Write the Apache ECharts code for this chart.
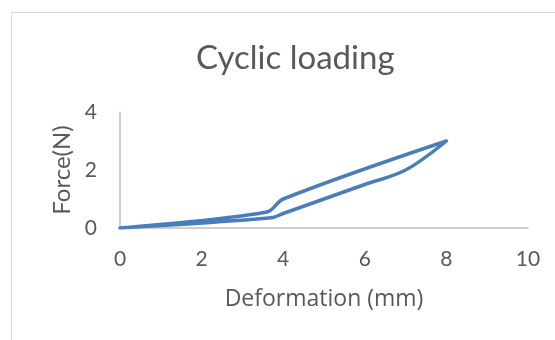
<!DOCTYPE html>
<html>
<head>
<meta charset="utf-8">
<script src="https://cdn.jsdelivr.net/npm/echarts@6/dist/echarts.min.js"></script>
<style>
  html, body { margin: 0; padding: 0; background: #ffffff; }
  #chart { width: 555px; height: 340px; }
</style>
</head>
<body>
<div id="chart"></div>
<script>
// Loading branch (deformation in mm, force in N)
const loadX = [0, 3.6, 4.0, 8.0];
const loadY = [0, 0.55, 1.0, 3.0];
// Unloading branch back to the origin
const unloadX = [8.0, 7.0, 6.0, 5.0, 4.0, 3.7, 0];
const unloadY = [3.0, 2.0, 1.5, 1.0, 0.5, 0.35, 0];

const xTicks = [0, 2, 4, 6, 8, 10];
const yTicks = [0, 2, 4];

const cycle = [];
loadX.forEach((x, i) => cycle.push([x, loadY[i]]));
unloadX.slice(1).forEach((x, i) => cycle.push([x, unloadY[i + 1]]));

const textColor = '#595959';
const axisColor = '#bfbfbf';
const font = 'Lato, "Open Sans", sans-serif';
// Lato joins "ti" into a ligature, so the x-axis name uses Open Sans
const nameFont = '"Open Sans", sans-serif';

const chart = echarts.init(document.getElementById('chart'), null, { renderer: 'canvas' });
chart.setOption({
  animation: false,
  backgroundColor: '#ffffff',
  graphic: [{
    type: 'rect',
    shape: { x: 11.5, y: 12.5, width: 700, height: 500 },
    style: { fill: 'none', stroke: '#d9d9d9', lineWidth: 1 },
    silent: true
  }],
  title: {
    text: 'Cyclic loading',
    left: 191,
    top: 37,
    textStyle: { fontFamily: font, fontSize: 33, fontWeight: 'normal', color: textColor }
  },
  grid: { left: 120, right: 27, top: 112, bottom: 112 },
  xAxis: {
    type: 'value',
    min: xTicks[0],
    max: xTicks[xTicks.length - 1],
    interval: 2,
    name: 'Deformation (mm)',
    nameLocation: 'middle',
    nameGap: 60,
    nameTextStyle: { fontFamily: nameFont, fontSize: 23, color: textColor },
    axisLine: { show: true, lineStyle: { color: axisColor, width: 1.5 } },
    axisTick: { show: false },
    splitLine: { show: false },
    axisLabel: { margin: 21, fontFamily: font, fontSize: 21, color: textColor }
  },
  yAxis: {
    type: 'value',
    min: yTicks[0],
    max: yTicks[yTicks.length - 1],
    interval: 2,
    name: 'Force(N)',
    nameLocation: 'middle',
    nameGap: 43,
    nameTextStyle: { fontFamily: font, fontSize: 24, color: textColor },
    axisLine: { show: true, lineStyle: { color: axisColor, width: 1.5 } },
    axisTick: { show: false },
    splitLine: { show: false },
    axisLabel: { margin: 23, fontFamily: font, fontSize: 21, color: textColor }
  },
  series: [{
    type: 'line',
    data: cycle,
    smooth: 0.35,
    showSymbol: false,
    lineStyle: { color: '#4a7ebb', width: 3.5, cap: 'round', join: 'round' }
  }]
});
</script>
</body>
</html>
